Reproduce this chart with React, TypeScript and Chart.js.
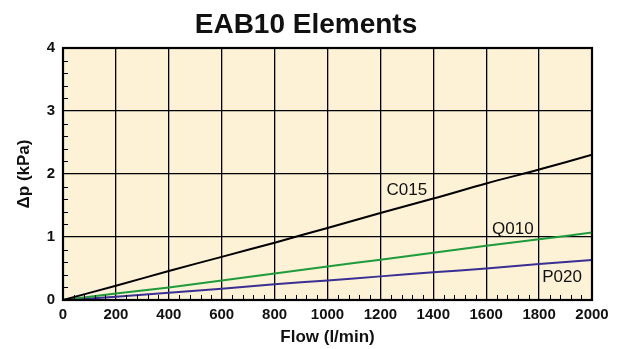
import React, { useEffect, useRef } from "react";
import { Chart, registerables } from "chart.js";

Chart.register(...registerables);

const flow = [0, 200, 400, 600, 800, 1000, 1200, 1400, 1600, 1800, 2000];
const c015 = [0, 0.226, 0.46, 0.685, 0.91, 1.144, 1.38, 1.61, 1.85, 2.07, 2.305];
const q010 = [0, 0.105, 0.2, 0.31, 0.42, 0.533, 0.64, 0.75, 0.86, 0.965, 1.07];
const p020 = [0, 0.05, 0.115, 0.18, 0.25, 0.31, 0.375, 0.44, 0.5, 0.57, 0.633];

const seriesNames = ["C015", "Q010", "P020"];
const labelX = [1300, 1701, 1887];
const labelY = [1.74, 1.12, 0.36];

const xMin = 0;
const xMax = 2000;
const xStep = 200;
const xMinorStep = 40;
const yMin = 0;
const yMax = 4;
const yStep = 1;
const yMinorStep = 0.2;

const FONT = "'Liberation Sans', Arial, Helvetica, sans-serif";

const plotDecor = {
  id: "plotDecor",
  beforeDraw(chart: any) {
    const { ctx, chartArea } = chart;
    ctx.save();
    ctx.fillStyle = "#FDF1D6";
    ctx.fillRect(chartArea.left, chartArea.top, chartArea.right - chartArea.left, chartArea.bottom - chartArea.top);
    ctx.restore();
  },
  afterDatasetsDraw(chart: any) {
    const { ctx, chartArea, scales } = chart;
    const xs = scales.x;
    const ys = scales.y;
    ctx.save();
    ctx.strokeStyle = "#000";
    ctx.lineWidth = 1;
    ctx.beginPath();
    for (let v = xMin; v <= xMax + 1e-9; v += xMinorStep) {
      if (Math.abs(v % xStep) < 1e-6) continue;
      const px = Math.round(xs.getPixelForValue(v)) + 0.5;
      ctx.moveTo(px, chartArea.bottom);
      ctx.lineTo(px, chartArea.bottom - 5);
    }
    for (let v = yMin; v <= yMax + 1e-9; v += yMinorStep) {
      const r = v / yStep;
      if (Math.abs(r - Math.round(r)) < 1e-6) continue;
      const py = Math.round(ys.getPixelForValue(v)) + 0.5;
      ctx.moveTo(chartArea.left, py);
      ctx.lineTo(chartArea.left + 5, py);
    }
    ctx.stroke();
    ctx.lineWidth = 2.2;
    ctx.strokeRect(chartArea.left, chartArea.top, chartArea.right - chartArea.left, chartArea.bottom - chartArea.top);
    ctx.fillStyle = "#111";
    ctx.font = `17px ${FONT}`;
    ctx.textAlign = "center";
    ctx.textBaseline = "middle";
    seriesNames.forEach((name, i) => {
      ctx.fillText(name, xs.getPixelForValue(labelX[i]), ys.getPixelForValue(labelY[i]));
    });
    ctx.restore();
  },
};

export default function App() {
  const ref = useRef<HTMLCanvasElement | null>(null);

  useEffect(() => {
    document.body.style.margin = "0";
    const canvas = ref.current;
    if (!canvas) return;
    const mk = (d: number[]) => flow.map((x, i) => ({ x, y: d[i] }));
    const chart = new Chart(canvas, {
      type: "line",
      data: {
        datasets: [
          { label: "C015", data: mk(c015), borderColor: "#000000", borderWidth: 2, pointRadius: 0, tension: 0.3, fill: false },
          { label: "Q010", data: mk(q010), borderColor: "#1E9B3C", borderWidth: 2, pointRadius: 0, tension: 0.3, fill: false },
          { label: "P020", data: mk(p020), borderColor: "#3A2F92", borderWidth: 2, pointRadius: 0, tension: 0.3, fill: false },
        ],
      },
      options: {
        animation: false,
        responsive: false,
        maintainAspectRatio: false,
        layout: { padding: { left: 20, right: 31, top: 0, bottom: 0 } },
        plugins: {
          legend: { display: false },
          tooltip: { enabled: false },
          title: {
            display: true,
            text: "EAB10 Elements",
            color: "#111",
            font: { family: FONT, size: 28, weight: "bold", lineHeight: 1.2 },
            padding: { top: 8.5, bottom: 5.9 },
          },
        },
        scales: {
          x: {
            type: "linear",
            min: xMin,
            max: xMax,
            afterFit(scale: any) {
              scale.height = 49;
            },
            grid: { color: "#000", lineWidth: 1.3, drawTicks: false },
            border: { display: false },
            ticks: {
              stepSize: xStep,
              color: "#111",
              padding: 6,
              maxRotation: 0,
              callback: (v: any) => String(v),
              font: { family: FONT, size: 15, weight: "bold" },
            },
            title: {
              display: true,
              text: "Flow (l/min)",
              color: "#111",
              font: { family: FONT, size: 17, weight: "bold", lineHeight: 1.2 },
              padding: { top: 0, bottom: 1 },
            },
          },
          y: {
            type: "linear",
            min: yMin,
            max: yMax,
            afterFit(scale: any) {
              scale.width = 43;
            },
            grid: { color: "#000", lineWidth: 1.3, drawTicks: false },
            border: { display: false },
            ticks: {
              stepSize: yStep,
              color: "#111",
              padding: 8,
              callback: (v: any) => String(v),
              font: { family: FONT, size: 15, weight: "bold" },
            },
            title: {
              display: true,
              text: "Δp (kPa)",
              color: "#111",
              font: { family: FONT, size: 17, weight: "bold", lineHeight: 1.2 },
              padding: { top: -6, bottom: 0 },
            },
          },
        },
      },
      plugins: [plotDecor],
    });
    return () => chart.destroy();
  }, []);

  return (
    <div style={{ position: "absolute", left: 0, top: 0, width: 623, height: 349, background: "#fff" }}>
      <canvas ref={ref} width={623} height={349} style={{ width: 623, height: 349, display: "block" }} />
    </div>
  );
}
